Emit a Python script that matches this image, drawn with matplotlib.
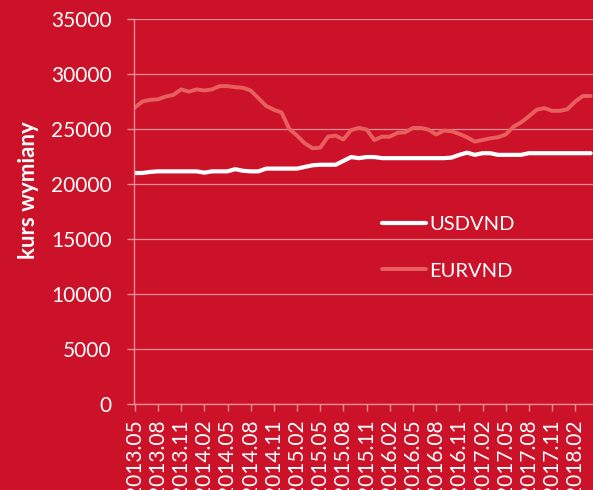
"""Kurs wymiany VND: USDVND i EURVND, dane miesięczne 2013.05-2018.04."""
import matplotlib

matplotlib.use("Agg")
import matplotlib.pyplot as plt
import numpy as np

months = [f"{2013 + (4 + i) // 12}.{(4 + i) % 12 + 1:02d}" for i in range(60)]

usdvnd = [
    21000, 21000, 21100, 21150, 21150, 21150, 21150, 21150, 21150, 21030,
    21150, 21150, 21150, 21350, 21200, 21150, 21150, 21400, 21400, 21400,
    21400, 21400, 21550, 21700, 21750, 21750, 21750, 22100, 22450, 22350,
    22450, 22450, 22350, 22350, 22350, 22350, 22350, 22350, 22350, 22350,
    22350, 22400, 22650, 22850, 22650, 22800, 22800, 22650, 22650, 22650,
    22650, 22800, 22800, 22800, 22800, 22800, 22800, 22800, 22800, 22800,
]
eurvnd = [
    26950, 27500, 27650, 27700, 27950, 28100, 28600, 28400, 28600, 28500,
    28600, 28900, 28900, 28800, 28750, 28500, 27800, 27100, 26750, 26500,
    25000, 24400, 23700, 23250, 23300, 24300, 24400, 24050, 24900, 25100,
    24950, 24000, 24300, 24300, 24650, 24700, 25100, 25100, 24950, 24500,
    24850, 24800, 24550, 24250, 23850, 24000, 24150, 24250, 24500, 25200,
    25600, 26150, 26750, 26900, 26650, 26650, 26800, 27500, 28000, 28000,
]
yticks = [0, 5000, 10000, 15000, 20000, 25000, 30000, 35000]

BG = "#CC1229"
GRID = "#E98C93"
EUR_COLOR = "#E8605E"

plt.rcParams["font.family"] = ["Lato", "DejaVu Sans"]

fig = plt.figure(figsize=(5.93, 4.90), dpi=100, facecolor=BG)
ax = fig.add_axes([134 / 593, 1 - 404 / 490, 1 - 134 / 593, 385 / 490])
ax.set_facecolor(BG)

x = np.arange(len(months))
ax.plot(x, usdvnd, color="white", lw=3.0, label="USDVND", solid_capstyle="round")
ax.plot(x, eurvnd, color=EUR_COLOR, lw=2.8, label="EURVND", solid_capstyle="round")

ax.set_xlim(-0.1, 59.3)
ax.set_ylim(0, 35000)
ax.set_yticks(yticks)
ax.set_yticklabels([str(v) for v in yticks])
ax.set_xticks(x[::3])
# the reference is cropped at the bottom, so these labels run off the edge
ax.set_xticklabels(months[::3], rotation=90, va="top", ha="center")

ax.grid(axis="y", color=GRID, lw=0.9)
ax.set_axisbelow(True)
for side in ("top", "right"):
    ax.spines[side].set_visible(False)
for side in ("left", "bottom"):
    ax.spines[side].set_color(GRID)
    ax.spines[side].set_linewidth(1.0)
ax.tick_params(colors=GRID, labelcolor="white", labelsize=15, length=5, width=1)
ax.tick_params(axis="y", pad=11)
ax.tick_params(axis="x", pad=6)

ax.set_ylabel("kurs wymiany", color="white", fontsize=16, fontweight="bold")
ax.yaxis.set_label_coords(-0.207, 0.555)

ax.legend(loc="upper left", bbox_to_anchor=(0.5, 0.535), frameon=False,
          labelcolor="white", fontsize=14.5, handlelength=2.2,
          handletextpad=0.15, labelspacing=1.45)

fig.savefig("out.png", dpi=100, facecolor=BG)
